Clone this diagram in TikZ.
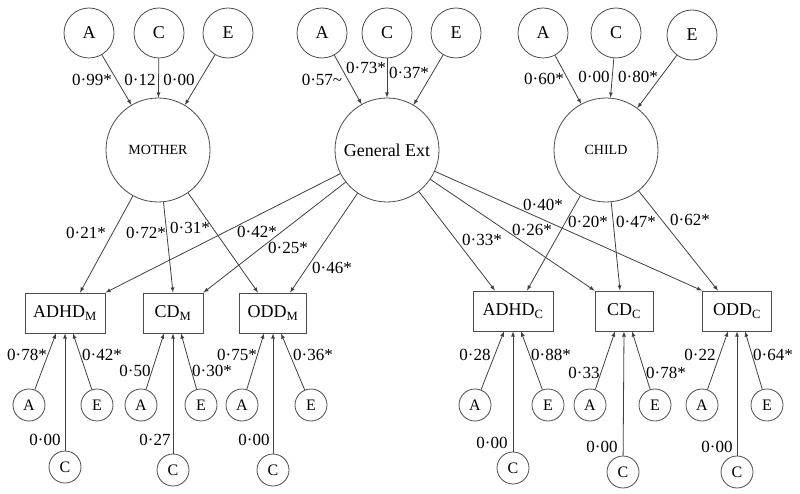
\documentclass[tikz,border=0pt]{standalone}
\usepackage{fontspec}
\setmainfont{Liberation Serif}
\usetikzlibrary{arrows,shapes}
\tikzstyle{latent}=[circle,draw=black!70,line width=0.8pt,minimum size=104pt,inner sep=0pt]
\tikzstyle{factor}=[circle,draw=black!70,line width=0.8pt,minimum size=50pt,inner sep=0pt,font=\fontsize{18}{20}\selectfont]
\tikzstyle{small}=[circle,draw=black!70,line width=0.8pt,minimum size=32pt,inner sep=0pt,font=\fontsize{16}{18}\selectfont]
\tikzstyle{measure}=[rectangle,draw=black!70,line width=0.8pt,minimum height=40pt,inner sep=0pt,font=\fontsize{18}{20}\selectfont]
\tikzstyle{coef}=[inner sep=0pt,font=\fontsize{17}{19}\selectfont]
\tikzstyle{edge} = [draw,line width=0.8pt,black!75,-latex]

\begin{document}
\begin{tikzpicture}[x=1pt,y=-1pt]
    \useasboundingbox (0,0) rectangle (800,494);
    % The three latent factors
    \node[latent,font=\fontsize{14}{16}\selectfont] (mother) at (158,150) {MOTHER};
    \node[latent,font=\fontsize{18}{20}\selectfont] (gext) at (387,150) {General Ext};
    \node[latent,font=\fontsize{14}{16}\selectfont] (child) at (606,150) {CHILD};

    % A, C and E on top of each factor
    \foreach \pos/\name/\txt in {{(89,33)/mA/A}, {(159,33)/mC/C}, {(228,33)/mE/E},
        {(322,33)/gA/A}, {(387,33)/gC/C}, {(456,33)/gE/E},
        {(543,33)/cA/A}, {(616,33)/cC/C}, {(692,35)/cE/E}}
        \node[factor] (\name) at \pos {\txt};
    \foreach \source/ \dest in {mA/mother, mC/mother, mE/mother, gA/gext, gC/gext, gE/gext, cA/child, cC/child, cE/child}
        \path[edge] (\source) -- (\dest);

    % The six measures
    \foreach \pos/\name/\txt/\w in {{(65,313)/adhdM/ADHD\textsubscript{M}/80}, {(173,313)/cdM/CD\textsubscript{M}/60},
        {(273,313)/oddM/ODD\textsubscript{M}/67}, {(513,311)/adhdC/ADHD\textsubscript{C}/80},
        {(624,311)/cdC/CD\textsubscript{C}/58}, {(737,311)/oddC/ODD\textsubscript{C}/69}}
        \node[measure,minimum width=\w pt] (\name) at \pos {\txt};

    % Factors to measures
    \foreach \source/ \dest/\dx in {mother/adhdM.north/15, gext/adhdM.north east/0,
        mother/cdM.north/0, gext/cdM.north east/0,
        mother/oddM.north/-15, gext/oddM.north/17,
        gext/adhdC.north/-18, child/adhdC.north/14,
        gext/cdC.north west/0, child/cdC.north/-4,
        gext/oddC.north west/0, child/oddC.north/-19}
        \path[edge] (\source) -- ([xshift=\dx pt]\dest);

    % A, C and E under each measure
    \foreach \name/\ax/\cx/\ex/\cy in {adhdM/29/65/97/467, cdM/141/173/201/470, oddM/242/273/311/470,
        adhdC/475/513/548/468, cdC/590/623/655/472, oddC/702/737/767/472}
    {
        \node[small] (\name A) at (\ax,405) {A};
        \node[small] (\name E) at (\ex,405) {E};
        \node[small] (\name C) at (\cx,\cy) {C};
        \path[edge] (\name A) -- ([xshift=-9pt]\name.south);
        \path[edge] (\name C) -- (\name.south);
        \path[edge] (\name E) -- ([xshift=8pt]\name.south);
    }

    % Path coefficients
    \foreach \pos/\txt [count=\i] in {{(92,80)/0·99*}, {(140,80)/0·12}, {(179,80)/0·00},
        {(322,80)/0·57\textasciitilde}, {(366,68)/0·73*}, {(409,73)/0·37*},
        {(544,79)/0·60*}, {(594,77)/0·00}, {(638,77)/0·80*},
        {(86,233)/0·21*}, {(146,233)/0·72*}, {(190,228)/0·31*},
        {(257,232)/0·42*}, {(288,248)/0·25*}, {(332,268)/0·46*},
        {(543,205)/0·40*}, {(588,222)/0·20*}, {(636,222)/0·47*}, {(690,220)/0·62*},
        {(482,240)/0·33*}, {(532,230)/0·26*},
        {(27,355)/0·78*}, {(102,355)/0·42*}, {(45,440)/0·00},
        {(135,371)/0·50}, {(212,371)/0·30*}, {(155,440)/0·27},
        {(237,355)/0·75*}, {(313,355)/0·36*}, {(254,440)/0·00},
        {(475,355)/0·28}, {(551,355)/0·88*}, {(492,443)/0·00},
        {(584,373)/0·33}, {(666,373)/0·78*}, {(602,447)/0·00},
        {(700,355)/0·22}, {(773,355)/0·64*}, {(717,447)/0·00}}
        \node[coef] (c\i) at \pos {\txt};
\end{tikzpicture}
\end{document}
